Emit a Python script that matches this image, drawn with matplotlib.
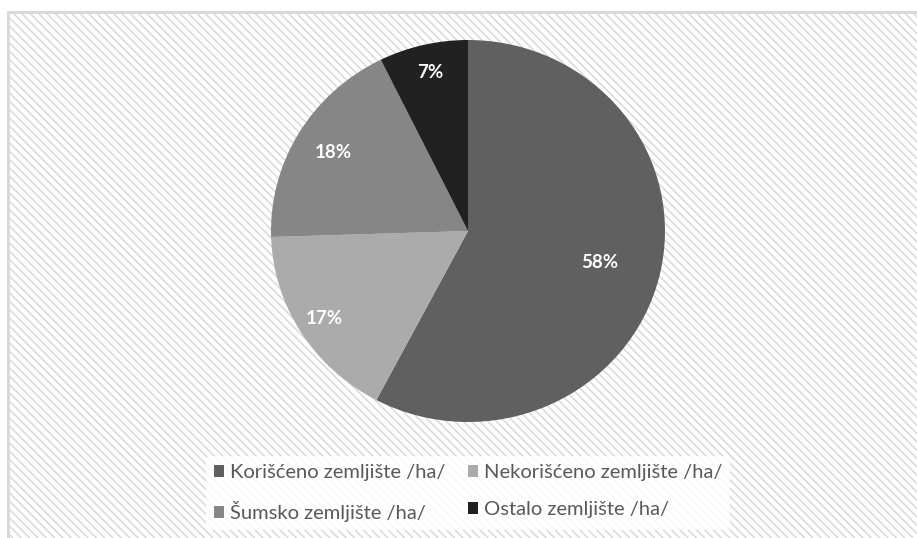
import numpy as np
import matplotlib.pyplot as plt
from matplotlib.patches import Rectangle, Patch

# land use shares, percent
categories = ["Korišćeno zemljište /ha/", "Nekorišćeno zemljište /ha/",
              "Šumsko zemljište /ha/", "Ostalo zemljište /ha/"]
shares = [57.7, 16.8, 18.2, 7.3]
colors = ["#606060", "#ababab", "#868686", "#212121"]
label_dist = [0.69, 0.86, 0.80, 0.85]

W, H = 917, 538
fig = plt.figure(figsize=(W / 100, H / 100), dpi=100)
fig.patch.set_facecolor("white")


def px(x, y):
    # pixel position (top-left origin) -> figure fraction
    return x / W, 1 - y / H


plt.rcParams["hatch.linewidth"] = 1.1
plt.rcParams["hatch.color"] = "#f5f5f5"
x0, y0 = px(8, 12)
bg = Rectangle((x0, -0.1), 1.2, y0 + 0.1, transform=fig.transFigure,
               facecolor="white", edgecolor="#d9d9d9", linewidth=2,
               hatch="\\\\\\\\", zorder=-5)
fig.patches.append(bg)
# plain border drawn on top of the hatched fill
fig.patches.append(Rectangle((x0, -0.1), 1.2, y0 + 0.1, transform=fig.transFigure,
                             facecolor="none", edgecolor="#d9d9d9",
                             linewidth=2, zorder=-4))

l, t = px(271, 40)
r, b = px(665, 422)
ax = fig.add_axes([l, b, r - l, t - b], zorder=2)
wedges, _ = ax.pie(shares, colors=colors, startangle=90, counterclock=False,
                   wedgeprops=dict(linewidth=0))
ax.set_aspect("auto")
ax.set_xlim(-1, 1)
ax.set_ylim(-1, 1)
ax.axis("off")

for w, v, d in zip(wedges, shares, label_dist):
    mid = np.deg2rad((w.theta1 + w.theta2) / 2)
    ax.text(d * np.cos(mid), d * np.sin(mid), f"{v:.0f}%", ha="center",
            va="center", color="white", fontsize=13.5, fontweight="bold",
            family="Lato")

order = [0, 2, 1, 3]
handles = [Patch(facecolor=colors[i], edgecolor="none") for i in order]
labels = [categories[i] for i in order]
leg = fig.legend(handles, labels, loc="center", bbox_to_anchor=px(468, 493),
                 ncol=2, frameon=True, prop=dict(family="Lato", size=14.5),
                 handlelength=0.5, handleheight=0.5, handletextpad=0.3,
                 columnspacing=1.1, labelspacing=1.0, borderpad=0.4)
leg.get_frame().set_facecolor("white")
leg.get_frame().set_edgecolor("none")
leg.get_frame().set_alpha(0.85)
for txt in leg.get_texts():
    txt.set_color("#595959")

fig.savefig("out.png", dpi=100)
